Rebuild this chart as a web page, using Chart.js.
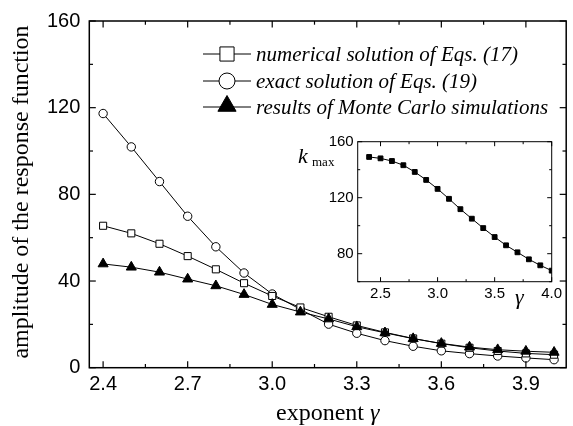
<!DOCTYPE html>
<html><head><meta charset="utf-8">
<script src="https://cdn.jsdelivr.net/npm/chart.js@4.4.1/dist/chart.umd.min.js"></script>
<style>
html,body{margin:0;padding:0;background:#fff;}
#wrap{position:relative;width:573px;height:426px;overflow:hidden;}
#main{position:absolute;left:0;top:0;}
#inset{position:absolute;left:280px;top:120px;}
</style></head>
<body><div id="wrap"><canvas id="main" width="573" height="426"></canvas><canvas id="inset" width="290" height="190"></canvas></div>
<script>
// ---- data ----
const gamma = [2.4,2.5,2.6,2.7,2.8,2.9,3.0,3.1,3.2,3.3,3.4,3.5,3.6,3.7,3.8,3.9,4.0];
const numerical = [65.5,62.0,57.2,51.5,45.4,39.0,33.1,27.8,23.5,19.5,16.3,13.5,11.1,9.2,7.7,6.6,6.0];
const exact = [117.3,101.9,85.9,69.9,55.8,43.7,34.0,26.9,20.1,15.9,12.5,9.9,7.8,6.5,5.4,4.5,3.7];
const monteCarlo = [47.9,46.4,44.1,40.9,37.8,33.8,29.2,25.7,22.5,18.9,16.1,13.4,11.2,9.5,8.3,7.6,7.1];
const kmax = [149.1,148.1,146.2,143.2,138.4,132.7,126.3,119.2,111.8,105.0,98.3,91.9,86.0,81.0,76.0,71.7,67.9];
const seriesNames = ['numerical solution of Eqs. (17)','exact solution of Eqs. (19)','results of Monte Carlo simulations'];
const mainXTicks = [2.4,2.7,3.0,3.3,3.6,3.9];
const mainXMinor = [2.55,2.85,3.15,3.45,3.75];
const mainYTicks = [0,40,80,120,160];
const mainYMinor = [20,60,100,140];
const insetXTicks = [2.5,3.0,3.5,4.0];
const insetXMinor = [2.25,2.75,3.25,3.75];
const insetYTicks = [80,120,160];
const insetYMinor = [60,100,140];
const xTitle = ['exponent ', 'γ'];
const yTitle = 'amplitude of the response function';

const pts = arr => arr.map((v,i)=>({x:gamma[i], y:v}));

// frame + inward ticks plugin
const frameTicks = {
  id:'frameTicks',
  afterDatasetsDraw(chart, args, o){
    const {ctx, chartArea:a, scales} = chart;
    const sx = scales.x, sy = scales.y;
    ctx.save();
    ctx.strokeStyle = '#000';
    ctx.lineWidth = o.lw;
    ctx.strokeRect(a.left, a.top, a.right-a.left, a.bottom-a.top);
    ctx.lineWidth = o.tw;
    const seg=(x1,y1,x2,y2)=>{ctx.beginPath();ctx.moveTo(x1,y1);ctx.lineTo(x2,y2);ctx.stroke();};
    const doX=(vals,L)=>vals.forEach(v=>{const p=sx.getPixelForValue(v); if(p<a.left-0.5||p>a.right+0.5)return; seg(p,a.bottom,p,a.bottom-L); seg(p,a.top,p,a.top+L);});
    const doY=(vals,L)=>vals.forEach(v=>{const p=sy.getPixelForValue(v); if(p<a.top-0.5||p>a.bottom+0.5)return; seg(a.left,p,a.left+L,p); seg(a.right,p,a.right-L,p);});
    doX(o.xMajor,o.maj); doX(o.xMinor,o.min); doY(o.yMajor,o.maj); doY(o.yMinor,o.min);
    ctx.restore();
  }
};

// titles + legend for main chart
const mainDecor = {
  id:'mainDecor',
  afterDraw(chart){
    const ctx = chart.ctx;
    ctx.save();
    ctx.fillStyle='#000';
    // y title
    ctx.font = '24px "Liberation Serif", "Times New Roman", serif';
    ctx.translate(28, 192);
    ctx.rotate(-Math.PI/2);
    ctx.textAlign='center'; ctx.textBaseline='alphabetic';
    ctx.fillText(yTitle, 0, 0);
    ctx.setTransform(1,0,0,1,0,0);
    // x title with italic gamma
    const f1 = '24px "Liberation Serif", serif', f2 = 'italic 24px "Liberation Serif", serif';
    ctx.font=f1; const w1=ctx.measureText(xTitle[0]).width;
    ctx.font=f2; const w2=ctx.measureText(xTitle[1]).width;
    const cx=(chart.chartArea.left+chart.chartArea.right)/2;
    let x0=cx-(w1+w2)/2;
    ctx.textAlign='left';
    ctx.font=f1; ctx.fillText(xTitle[0], x0, 420);
    ctx.font=f2; ctx.fillText(xTitle[1], x0+w1, 420);
    // legend
    const rows=[54,81,107];
    const styles=[{s:'rect',r:10,fill:'#fff'},{s:'circle',r:8,fill:'#fff'},{s:'triangle',r:10.5,fill:'#000'}];
    ctx.font='italic 21px "Liberation Serif", serif';
    ctx.textBaseline='middle';
    rows.forEach((yy,i)=>{
      ctx.strokeStyle='#000'; ctx.lineWidth=1;
      ctx.beginPath(); ctx.moveTo(203,yy); ctx.lineTo(251,yy); ctx.stroke();
      ctx.fillStyle=styles[i].fill;
      Chart.helpers.drawPoint(ctx,{pointStyle:styles[i].s,radius:styles[i].r,borderWidth:1},227, i===2?yy-1:yy);
      ctx.fillStyle='#000';
      ctx.fillText(seriesNames[i], 256, yy+1);
    });
    ctx.restore();
  }
};

const sansTick = {family:'"Liberation Sans", Arial, sans-serif', size:20};

new Chart(document.getElementById('main'),{
  type:'line',
  data:{datasets:[
    {label:seriesNames[2], data:pts(monteCarlo), borderColor:'#000', borderWidth:1, pointStyle:'triangle', pointRadius:5.8, pointBackgroundColor:'#000', pointBorderColor:'#000', pointBorderWidth:1, order:1},
    {label:seriesNames[0], data:pts(numerical), borderColor:'#000', borderWidth:1, pointStyle:'rect', pointRadius:5, pointBackgroundColor:'#fff', pointBorderColor:'#000', pointBorderWidth:1, order:2},
    {label:seriesNames[1], data:pts(exact), borderColor:'#000', borderWidth:1, pointStyle:'circle', pointRadius:4.2, pointBackgroundColor:'#fff', pointBorderColor:'#000', pointBorderWidth:1, order:3}
  ]},
  options:{
    responsive:false, animation:false, devicePixelRatio:1,
    layout:{padding:{top:20.7,right:2,left:0,bottom:0}},
    plugins:{legend:{display:false},tooltip:{enabled:false},
      frameTicks:{lw:1.5,tw:1.2,maj:6.5,min:3.7,xMajor:mainXTicks,xMinor:mainXMinor,yMajor:mainYTicks,yMinor:mainYMinor}},
    scales:{
      x:{type:'linear',min:2.351,max:4.043,
        afterBuildTicks:s=>{s.ticks=mainXTicks.map(v=>({value:v}));},
        afterFit:s=>{s.height=58.3;},
        grid:{display:false,drawTicks:false}, border:{display:false},
        ticks:{color:'#000',font:sansTick,padding:5,maxRotation:0,autoSkip:false,callback:v=>v.toFixed(1)}},
      y:{type:'linear',min:0,max:160,
        afterBuildTicks:s=>{s.ticks=mainYTicks.map(v=>({value:v}));},
        afterFit:s=>{s.width=89.3;},
        grid:{display:false,drawTicks:false}, border:{display:false},
        ticks:{color:'#000',font:sansTick,padding:9,callback:v=>String(v)}}
    }
  },
  plugins:[frameTicks, mainDecor]
});

// inset
const insetDecor = {
  id:'insetDecor',
  beforeDatasetsDraw(chart){
    const {ctx, chartArea:a}=chart;
    ctx.save(); ctx.fillStyle='#fff'; ctx.fillRect(a.left,a.top,a.right-a.left,a.bottom-a.top); ctx.restore();
  },
  afterDraw(chart){
    const ctx=chart.ctx;
    ctx.save(); ctx.fillStyle='#000'; ctx.textBaseline='alphabetic'; ctx.textAlign='left';
    ctx.font='italic 22px "Liberation Serif", serif';
    ctx.fillText('k', 18, 43);
    ctx.font='13px "Liberation Serif", serif';
    ctx.fillText('max', 32, 46);
    ctx.font='italic 22px "Liberation Serif", serif';
    ctx.fillText('γ', 235, 184);
    ctx.restore();
  }
};
const insetTick = {family:'"Liberation Sans", Arial, sans-serif', size:15};
new Chart(document.getElementById('inset'),{
  type:'line',
  data:{datasets:[{label:'kmax', data:pts(kmax), borderColor:'#000', borderWidth:1, pointStyle:'rect', pointRadius:3.4, pointBackgroundColor:'#000', pointBorderColor:'#000', pointBorderWidth:1}]},
  options:{
    responsive:false, animation:false, devicePixelRatio:1,
    layout:{padding:{top:21.7,right:18.3,left:0,bottom:0}},
    plugins:{legend:{display:false},tooltip:{enabled:false},
      frameTicks:{lw:1,tw:1,maj:4.5,min:2.5,xMajor:insetXTicks,xMinor:insetXMinor,yMajor:insetYTicks,yMinor:insetYMinor}},
    scales:{
      x:{type:'linear',min:2.3,max:4.0,
        afterBuildTicks:s=>{s.ticks=insetXTicks.map(v=>({value:v}));},
        afterFit:s=>{s.height=28.3;},
        grid:{display:false,drawTicks:false}, border:{display:false},
        ticks:{color:'#000',font:insetTick,padding:3,maxRotation:0,autoSkip:false,callback:v=>v.toFixed(1)}},
      y:{type:'linear',min:60,max:160,
        afterBuildTicks:s=>{s.ticks=insetYTicks.map(v=>({value:v}));},
        afterFit:s=>{s.width=77.7;},
        grid:{display:false,drawTicks:false}, border:{display:false},
        ticks:{color:'#000',font:insetTick,padding:4,callback:v=>String(v)}}
    }
  },
  plugins:[frameTicks, insetDecor]
});
</script>
</body></html>
